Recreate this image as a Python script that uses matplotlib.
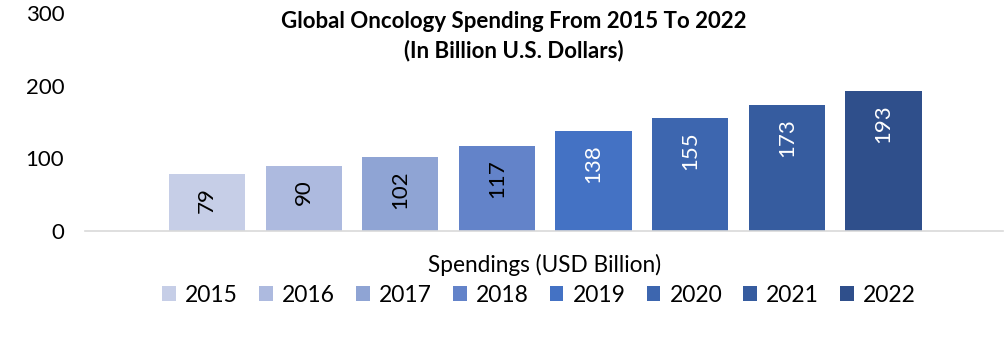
import matplotlib
matplotlib.use("Agg")
import matplotlib.pyplot as plt
from matplotlib.patches import Patch

years = ["2015", "2016", "2017", "2018", "2019", "2020", "2021", "2022"]
spending = [79, 90, 102, 117, 138, 155, 173, 193]
colors = ["#C6CEE7", "#ADBADF", "#8FA4D4", "#6383C9", "#4472C4", "#3D66AF", "#365C9F", "#2F4F8B"]
label_colors = ["#000000"] * 4 + ["#FFFFFF"] * 4
yticks = [0, 100, 200, 300]
title = "Global Oncology Spending From 2015 To 2022\n(In Billion U.S. Dollars)"
category = "Spendings (USD Billion)"

plt.rcParams['font.family'] = ['Lato', 'DejaVu Sans']

W, H = 1005, 358
fig = plt.figure(figsize=(W / 100, H / 100), dpi=100)
ax = fig.add_axes([85 / W, (H - 231) / H, (1003 - 85) / W, (231 - 13) / H])

x = list(range(len(years)))
bars = ax.bar(x, spending, width=0.79, color=colors, zorder=2)
for b, v, lc in zip(bars, spending, label_colors):
    ax.annotate(str(v), (b.get_x() + b.get_width() / 2, v), xytext=(0, -9.5),
                textcoords="offset points", rotation=90, ha="center", va="top",
                fontsize=16, color=lc)

ax.set_ylim(0, 300)
ax.set_xlim(-1.263, 8.237)
ax.set_yticks(yticks)
ax.set_yticklabels([str(t) for t in yticks], fontsize=16, color="#000000")
ax.tick_params(axis="y", length=0, pad=15)
ax.set_xticks([])
for s in ["top", "right", "left"]:
    ax.spines[s].set_visible(False)
ax.spines["bottom"].set_color("#D9D9D9")
ax.spines["bottom"].set_linewidth(1.2)

fig.text(514 / W, 1 - 36 / H, title, ha="center", va="center", fontsize=16,
         fontweight="bold", linespacing=1.4)
fig.text(545 / W, 1 - 265 / H, category, ha="center", va="center", fontsize=16.3)

handles = [Patch(facecolor=c, edgecolor="none") for c in colors]
fig.legend(handles, years, loc="center", bbox_to_anchor=(539 / W, 1 - 295 / H),
           ncol=8, frameon=False, fontsize=16.5, handlelength=0.6, handleheight=0.6,
           handletextpad=0.4, columnspacing=0.92, borderaxespad=0)

fig.savefig("out.png", dpi=100)
